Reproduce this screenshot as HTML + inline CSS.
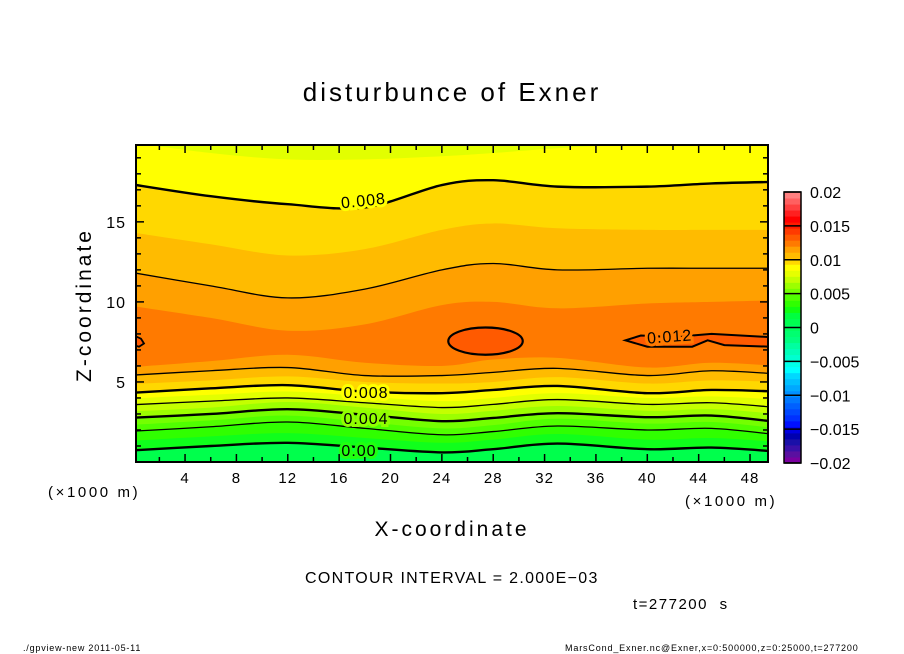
<!DOCTYPE html>
<html><head><meta charset="utf-8"><style>
html,body{margin:0;padding:0;background:#fff;}
svg{display:block;font-family:"Liberation Sans",sans-serif;}
</style></head><body>
<svg id="chart" width="904" height="654" viewBox="0 0 904 654" xmlns="http://www.w3.org/2000/svg">
<defs><clipPath id="pc"><rect x="136" y="145" width="632" height="317"/></clipPath></defs>
<text x="452" y="101" text-anchor="middle" font-size="26" letter-spacing="3">disturbunce of Exner</text>
<g id="field" clip-path="url(#pc)"></g>
<g id="lines" clip-path="url(#pc)"></g>
<g id="labels"></g>
<rect x="136" y="145" width="632" height="317" fill="none" stroke="#000" stroke-width="2"/>
<g id="axes"></g>
<g id="cbar"></g>
<text transform="translate(91,305) rotate(-90)" text-anchor="middle" font-size="21" letter-spacing="3">Z-coordinate</text>
<text x="452" y="536" text-anchor="middle" font-size="21" letter-spacing="3">X-coordinate</text>
<text x="48" y="497" font-size="15" letter-spacing="2.6">(×1000 m)</text>
<text x="685" y="506" font-size="15" letter-spacing="2.6">(×1000 m)</text>
<text x="305" y="583" font-size="16" letter-spacing="1.3">CONTOUR INTERVAL = 2.000E−03</text>
<text x="633" y="609" font-size="15" letter-spacing="1.5" word-spacing="6">t=277200 s</text>
<text x="23" y="651" font-size="9" letter-spacing="0.8">./gpview-new  2011-05-11</text>
<text x="565" y="651" font-size="9" letter-spacing="0.85">MarsCond_Exner.nc@Exner,x=0:500000,z=0:25000,t=277200</text>
</svg>
<script>
// ---- data ----
const xs = [0, 6, 12, 18, 24, 28, 33, 40, 45, 49.5];
const levels = [0.000,0.001,0.002,0.003,0.004,0.005,0.006,0.007,0.008,0.009,0.010,0.011];
const lowerZ = [
 [0.7,1.0,1.2,0.9,0.6,0.8,1.15,0.8,0.9,0.65],
 [1.3,1.6,1.8,1.5,1.2,1.4,1.75,1.4,1.5,1.25],
 [1.9,2.2,2.5,2.1,1.7,1.9,2.25,2.0,2.1,1.7],
 [2.3,2.6,2.9,2.5,2.1,2.3,2.7,2.4,2.5,2.1],
 [2.75,3.0,3.3,2.95,2.55,2.75,3.05,2.8,2.9,2.5],
 [3.15,3.4,3.75,3.4,3.0,3.2,3.5,3.2,3.3,3.0],
 [3.56,3.8,4.0,3.7,3.4,3.6,3.9,3.6,3.7,3.4],
 [3.95,4.2,4.4,4.1,3.8,4.0,4.3,4.0,4.1,3.9],
 [4.3,4.6,4.8,4.4,4.3,4.5,4.75,4.3,4.5,4.4],
 [4.85,5.1,5.35,5.0,4.9,5.0,5.3,4.9,5.1,5.0],
 [5.4,5.7,5.9,5.4,5.4,5.6,5.85,5.4,5.7,5.5],
 [5.9,6.3,6.7,6.2,6.0,6.4,6.5,5.9,6.2,6.0]
];
const upperZ = [
 null,null,null,null,null,null,null,
 [20.0,19.3,18.9,18.9,19.1,19.3,19.6,19.9,20.0,20.1],
 [17.4,16.6,16.1,15.9,17.3,17.6,17.2,17.2,17.4,17.5],
 [14.4,13.6,12.9,13.3,14.5,14.9,14.6,14.5,14.5,14.5],
 [11.9,11.0,10.25,10.8,12.0,12.4,12.0,12.1,12.1,12.1],
 [9.8,9.0,8.2,8.6,9.8,10.0,9.6,9.9,10.0,10.1]
];
const bandColors = ["#00ff4c","#10ff1c","#30ff00","#50ff00","#74ff00","#9cff00","#c4ff00","#e2ff00","#ffff00","#ffd800","#ffbb00","#ffa000","#ff7a00"];
const peakColor = "#ff5a00";
const cbarColors = ["#7a00a0","#5a10a0","#3a10a8","#1a10a8","#0000b0",
 "#0000e0","#0010ff","#0030ff","#0048ff","#0060ff",
 "#0078ff","#0090ff","#00a8ff","#00c0ff","#00d8ff",
 "#00ffff","#00ffe8","#00ffd0","#00ffb8","#00ffa0",
 "#00ff80","#00ff70","#00ff60","#00ff50","#00ff40",
 "#10ff10","#30ff00","#50ff00","#74ff00","#9cff00",
 "#c4ff00","#e6ff00","#ffff00","#ffd800","#ffbb00",
 "#ffa000","#ff7a00","#ff5a00","#ff3a00","#ff1a00",
 "#ff0000","#ff2020","#ff4040","#ff6060","#ff8080"];
const cbarTicks = [-0.02,-0.015,-0.01,-0.005,0,0.005,0.01,0.015,0.02];
const cbarTickLabels = ["−0.02","−0.015","−0.01","−0.005","0","0.005","0.01","0.015","0.02"];
const xTicks = [4,8,12,16,20,24,28,32,36,40,44,48];
const zTicks = [5,10,15];
// ---- scales ----
const X0=136,X1=768,Y0=462,Y1=145, XMIN=0.18, XMAX=49.4, ZMIN=0, ZMAX=19.8;
const sx=v=>X0+(v-XMIN)/(XMAX-XMIN)*(X1-X0);
const sz=v=>Y0-(v-ZMIN)/(ZMAX-ZMIN)*(Y0-Y1);
const NS="http://www.w3.org/2000/svg";
function mk(tag,attrs,parent){const e=document.createElementNS(NS,tag);for(const k in attrs)e.setAttribute(k,attrs[k]);parent.appendChild(e);return e;}
function smooth(pts){
 let d="M"+pts[0][0]+","+pts[0][1];
 for(let i=0;i<pts.length-1;i++){const p0=pts[Math.max(0,i-1)],p1=pts[i],p2=pts[i+1],p3=pts[Math.min(pts.length-1,i+2)];
  d+=" C"+(p1[0]+(p2[0]-p0[0])/6)+","+(p1[1]+(p2[1]-p0[1])/6)+" "+(p2[0]-(p3[0]-p1[0])/6)+","+(p2[1]-(p3[1]-p1[1])/6)+" "+p2[0]+","+p2[1];}
 return d;}
function linePts(arr){const p=xs.map((x,i)=>[sx(x),sz(arr[i])]);p[0][0]=X0-10;p[p.length-1][0]=X1+10;return p;}
const field=document.getElementById('field'), lines=document.getElementById('lines'), labels=document.getElementById('labels');
const bg=mk('rect',{x:X0,y:Y1,width:X1-X0,height:Y0-Y1,fill:bandColors[0]},field);


levels.forEach((lv,k)=>{
 const lo=linePts(lowerZ[k]);
 let d=smooth(lo);
 if(upperZ[k]){const up=linePts(upperZ[k]).reverse();d+=" L"+up[0][0]+","+up[0][1]+smooth(up).replace(/^M[^C]*/," ");}
 else d+=" L"+(X1+10)+","+(Y1-20)+" L"+(X0-10)+","+(Y1-20);
 d+=" Z";
 const p=mk('path',{d:d,fill:bandColors[k+1]},field);
 
 
 const thick=Math.round(lv*1000)%4===0, even=Math.round(lv*1000)%2===0;
 if(even){
  [lowerZ[k],upperZ[k]].forEach(a=>{if(!a)return;
   const l=mk('path',{d:smooth(linePts(a)),fill:'none',stroke:'#000','stroke-width':thick?2.4:1.3},lines);
   
   });
 }
});
const e1=mk('ellipse',{cx:sx(27.4),cy:sz(7.55),rx:(sx(30.3)-sx(27.4)),ry:(sz(6.7)-sz(7.55)),fill:peakColor,stroke:'#000','stroke-width':2.2},lines);


const blob=mk('path',{d:"M"+sx(38.3)+","+sz(7.6)+" L"+sx(39.5)+","+sz(7.9)+" L"+sx(42)+","+sz(7.8)+" L"+sx(45)+","+sz(8.0)+" L"+sx(49.6)+","+sz(7.8)+" L"+sx(49.6)+","+sz(7.2)+" L"+sx(46)+","+sz(7.3)+" L"+sx(44.7)+","+sz(7.6)+" L"+sx(43.5)+","+sz(7.2)+" L"+sx(40)+","+sz(7.2)+" Z",fill:peakColor,stroke:'#000','stroke-width':2},lines);


const blob2=mk('path',{d:"M"+(X0-2)+","+sz(7.9)+" L"+(X0+5)+","+sz(7.7)+" L"+(X0+8)+","+sz(7.4)+" L"+(X0+3)+","+sz(7.2)+" L"+(X0-2)+","+sz(7.3)+" Z",fill:peakColor,stroke:'#000','stroke-width':1.8},lines);


[["0.008",364,206,-6,"#ffff00"],["0.008",366,398,0,"#ffff00"],["0.004",366,424,0,"#90ff00"],["0.00",359,456,0,"#20ff10"],["0.012",670,342,-4,"#ff7a00"]].forEach(([t,x,y,r,c])=>{
 const g=mk('text',{x:x,y:y,'text-anchor':'middle','font-size':16,'letter-spacing':1,transform:'rotate('+r+' '+x+' '+y+')',stroke:c,'stroke-width':6,'paint-order':'stroke',fill:'#000'},labels);
 g.textContent=t;
 
 
});
const axes=document.getElementById('axes');
for(let v=2;v<=48;v+=2){const major=v%4===0,L=major?8:5;
 mk('line',{x1:sx(v),x2:sx(v),y1:Y0,y2:Y0-L,stroke:'#000','stroke-width':1.5},axes);
 mk('line',{x1:sx(v),x2:sx(v),y1:Y1,y2:Y1+L,stroke:'#000','stroke-width':1.5},axes);}
xTicks.forEach(v=>{const t=mk('text',{x:sx(v),y:Y0+21,'text-anchor':'middle','font-size':15,'letter-spacing':1},axes);t.textContent=v;
 
 });
for(let v=1;v<=19;v++){const major=v%5===0,L=major?8:5;
 mk('line',{x1:X0,x2:X0+L,y1:sz(v),y2:sz(v),stroke:'#000','stroke-width':1.5},axes);
 mk('line',{x1:X1,x2:X1-L,y1:sz(v),y2:sz(v),stroke:'#000','stroke-width':1.5},axes);}
zTicks.forEach(v=>{const t=mk('text',{x:X0-10,y:sz(v)+6,'text-anchor':'end','font-size':16,'letter-spacing':1},axes);t.textContent=v;
 
 });
const cb=document.getElementById('cbar'), CX=784, CW=17, CT=192, CB=463;
const cs=v=>CB-(v+0.02)/0.04*(CB-CT);
const step=0.04/cbarColors.length;
cbarColors.forEach((c,i)=>{const r=mk('rect',{x:CX,y:cs(-0.02+(i+1)*step),width:CW,height:cs(-0.02+i*step)-cs(-0.02+(i+1)*step)+0.5,fill:c},cb);
 
 });
cbarTicks.forEach((v,i)=>{mk('line',{x1:CX,x2:CX+CW,y1:cs(v),y2:cs(v),stroke:'#000','stroke-width':1.5},cb);
 const t=mk('text',{x:CX+26,y:cs(v)+6,'font-size':16},cb);t.textContent=cbarTickLabels[i];
 
 });
mk('rect',{x:CX,y:CT,width:CW,height:CB-CT,fill:'none',stroke:'#000','stroke-width':1.5},cb);
</script>
</body></html>
